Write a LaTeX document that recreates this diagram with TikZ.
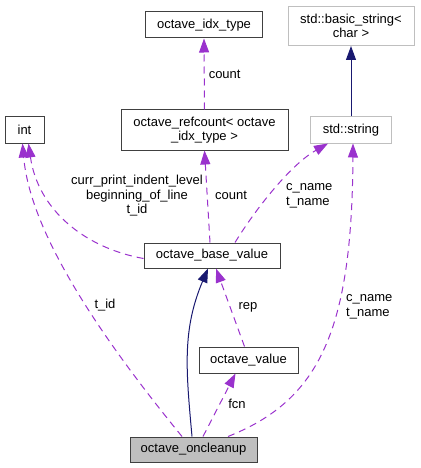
\documentclass[tikz,border=0pt]{standalone}
\usepackage{fontspec}
\setmainfont{Liberation Sans}
\usetikzlibrary{arrows.meta}
\definecolor{usecolor}{HTML}{9A32CD}
\definecolor{inhcolor}{HTML}{191970}
\definecolor{boxline}{HTML}{404040}
\definecolor{extline}{HTML}{BFBFBF}

\begin{document}
\begin{tikzpicture}[
  x=1pt, y=-1pt,
  font=\fontsize{13}{14.5}\selectfont,
  cls/.style={draw=boxline, line width=1pt, align=center, inner sep=1pt},
  extcls/.style={cls, draw=extline},
  usearrow/.style={draw=usecolor, line width=1pt, dash pattern=on 7pt off 5pt,
    -{Triangle[length=14pt, width=10pt, fill=usecolor]}},
  inharrow/.style={draw=inhcolor, line width=1pt,
    -{Triangle[length=14pt, width=10pt, fill=inhcolor]}},
  lbl/.style={inner sep=0pt, align=center},
]
\useasboundingbox (0,0) rectangle (420,468);

% Classes
\node[cls, minimum width=117pt, minimum height=26pt] (idx) at (204,25) {octave\_idx\_type};
\node[extcls, minimum width=126pt, minimum height=39pt] (bstr) at (351,26) {std::basic\_string<\\char >};
\node[cls, minimum width=39pt, minimum height=26pt] (int) at (24.5,130) {int};
\node[cls, minimum width=167pt, minimum height=40pt] (refc) at (204.5,130) {octave\_refcount< octave\\\_idx\_type >};
\node[extcls, minimum width=81pt, minimum height=26pt] (str) at (351,130) {std::string};
\node[cls, minimum width=136pt, minimum height=25pt] (base) at (212,255.5) {octave\_base\_value};
\node[cls, minimum width=99pt, minimum height=26pt] (val) at (248.5,360) {octave\_value};
\node[cls, fill=extline, minimum width=127pt, minimum height=25pt] (oncl) at (193.5,449.5) {octave\_oncleanup};

% Connectors
\draw[inharrow] (str.north) -- (bstr.south);
\draw[usearrow] (refc.north) -- node[lbl, anchor=west, xshift=4pt] {count} (idx.south);
\draw[usearrow] ([xshift=-2pt]base.north) -- (refc.south);
\node[lbl] at (231,195) {count};
\draw[usearrow] ([yshift=-3pt]base.west) .. controls (85,248) and (38,210) .. ([xshift=4pt]int.south);
\node[lbl] at (137,196) {curr\_print\_indent\_level\\beginning\_of\_line\\t\_id};
\draw[usearrow] ([xshift=23pt]base.north) .. controls (255,210) and (290,165) .. ([xshift=-23pt]str.south);
\node[lbl, align=left, anchor=west] at (286,196) {c\_name\\t\_name};
\draw[usearrow] ([xshift=-4pt]val.north) -- ([xshift=4pt]base.south);
\node[lbl] at (248,307) {rep};
\draw[inharrow] ([xshift=-1.5pt]oncl.north) .. controls (186,370) and (182,330) .. ([xshift=-4pt]base.south);
\draw[usearrow] ([xshift=9.5pt]oncl.north) -- ([xshift=-13pt]val.south);
\node[lbl] at (237,404) {fcn};
\draw[usearrow] ([xshift=-11.5pt]oncl.north) .. controls (95,330) and (30,230) .. ([xshift=-2pt]int.south);
\node[lbl] at (105,305) {t\_id};
\draw[usearrow] ([xshift=34.5pt]oncl.north) .. controls (320,400) and (352,330) .. ([xshift=2pt]str.south);
\node[lbl, align=left, anchor=west] at (346,307) {c\_name\\t\_name};
\end{tikzpicture}
\end{document}
